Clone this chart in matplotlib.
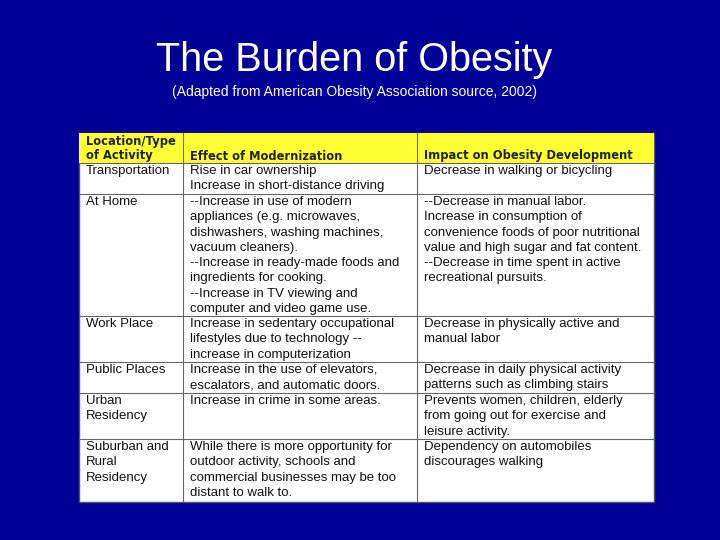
import matplotlib
matplotlib.use("Agg")
import matplotlib.pyplot as plt
from matplotlib.patches import Rectangle

title = "The Burden of Obesity"
subtitle = "(Adapted from American Obesity Association source, 2002)"
headers = [["Location/Type", "of Activity"], ["Effect of Modernization"], ["Impact on Obesity Development"]]
col_edges = [79, 183, 417, 654]
row_edges = [133, 163, 194, 316, 362, 393, 439, 502]
rows = [
    [["Transportation"], ["Rise in car ownership", "Increase in short-distance driving"],
     ["Decrease in walking or bicycling"]],
    [["At Home"], ["--Increase in use of modern", "appliances (e.g. microwaves,", "dishwashers, washing machines,",
                   "vacuum cleaners).", "--Increase in ready-made foods and", "ingredients for cooking.",
                   "--Increase in TV viewing and", "computer and video game use."],
     ["--Decrease in manual labor.", "Increase in consumption of", "convenience foods of poor nutritional",
      "value and high sugar and fat content.", "--Decrease in time spent in active", "recreational pursuits."]],
    [["Work Place"], ["Increase in sedentary occupational", "lifestyles due to technology --",
                      "increase in computerization"], ["Decrease in physically active and", "manual labor"]],
    [["Public Places"], ["Increase in the use of elevators,", "escalators, and automatic doors."],
     ["Decrease in daily physical activity", "patterns such as climbing stairs"]],
    [["Urban", "Residency"], ["Increase in crime in some areas."],
     ["Prevents women, children, elderly", "from going out for exercise and", "leisure activity."]],
    [["Suburban and", "Rural", "Residency"], ["While there is more opportunity for", "outdoor activity, schools and",
                                             "commercial businesses may be too", "distant to walk to."],
     ["Dependency on automobiles", "discourages walking"]],
]

fig = plt.figure(figsize=(7.2, 5.4), dpi=100)
fig.patch.set_facecolor("#000099")
ax = fig.add_axes([0, 0, 1, 1])
ax.set_xlim(0, 720); ax.set_ylim(540, 0); ax.axis("off")

ax.text(354, 60, title, color="white", fontsize=28.5, ha="center", va="center", family="Liberation Sans")
ax.text(354, 92, subtitle, color="white", fontsize=10, ha="center", va="center", family="Liberation Sans")

ax.add_patch(Rectangle((col_edges[0], row_edges[0]), col_edges[-1]-col_edges[0], row_edges[-1]-row_edges[0],
                       facecolor="white", edgecolor="#555555", lw=1))
ax.add_patch(Rectangle((col_edges[0], row_edges[0]), col_edges[-1]-col_edges[0], row_edges[1]-row_edges[0],
                       facecolor="#FFFF33", edgecolor="none"))
for x in col_edges[1:-1]:
    ax.plot([x, x], [row_edges[0], row_edges[-1]], color="#666666", lw=0.8)
for y in row_edges[1:-1]:
    ax.plot([col_edges[0], col_edges[-1]], [y, y], color="#666666", lw=0.8)

for j, h in enumerate(headers):
    n = len(h)
    for k, line in enumerate(h):
        y = row_edges[1] - 7 - (n-1-k)*15
        ax.text(col_edges[j]+7, y, line, fontsize=8.3, fontweight="bold", color="#222222",
                va="center", family="DejaVu Sans")

for i, row in enumerate(rows):
    for j, cell in enumerate(row):
        for k, line in enumerate(cell):
            ax.text(col_edges[j]+7, row_edges[i+1]+8+k*15.3, line, fontsize=9.5, color="#111111",
                    va="center", family="Liberation Sans")

fig.savefig("out.png", dpi=100, facecolor=fig.get_facecolor())
